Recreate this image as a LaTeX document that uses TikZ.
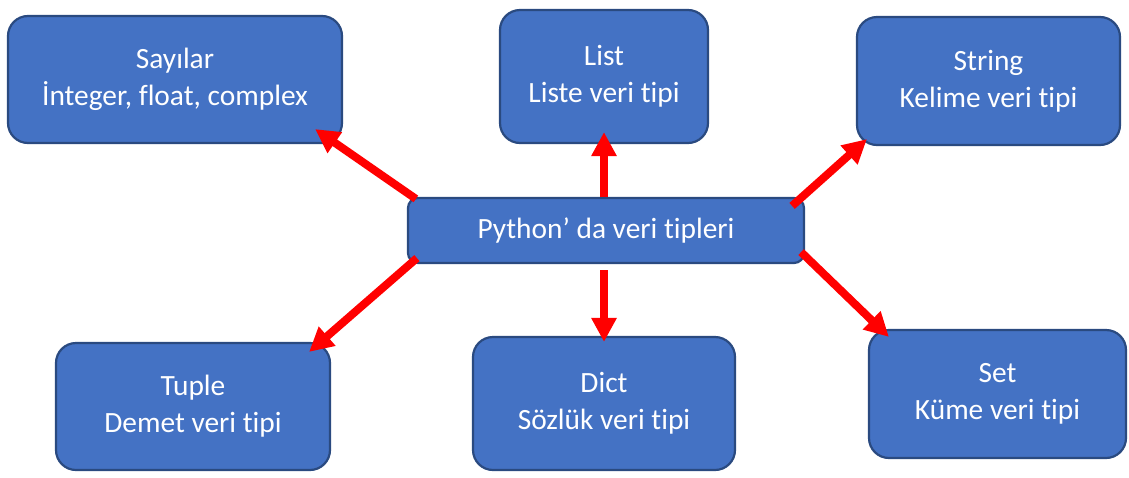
\documentclass[tikz,border=0pt]{standalone}
\usepackage{fontspec}
\setmainfont{Carlito}[RawFeature={-liga;-clig;-dlig}]
\usetikzlibrary{calc, arrows.meta}
\definecolor{boxblue}{HTML}{4472C4}
\definecolor{boxedge}{HTML}{2A4A80}
\tikzset{
  typebox/.style={draw=boxedge, line width=1.1pt, fill=boxblue, rounded corners=10pt, text=white, align=center, inner sep=0pt, font=\fontsize{14.7}{18.5}\selectfont},
  redarrow/.style={draw=red, line width=4pt, -{Triangle[length=12pt, width=12pt]}}
}
\begin{document}
\begin{tikzpicture}[x=0.5pt, y=-0.5pt]
            \useasboundingbox (0,0) rectangle (1129,477);
            \node[typebox, minimum width=167pt, minimum height=63.5pt] (sayilar) at (175,79.5) {Sayılar\\İnteger, float, complex};
            \node[typebox, minimum width=104pt, minimum height=66.5pt] (list) at (604,76.5) {List\\Liste veri tipi};
            \node[typebox, minimum width=131.5pt, minimum height=64pt] (string) at (988.5,81) {String\\Kelime veri tipi};
            \node[typebox, rounded corners=5pt, minimum width=198pt, minimum height=32.5pt] (python) at (606,230.5) {Python’ da veri tipleri};
            \node[typebox, minimum width=137pt, minimum height=63.5pt] (tuple) at (193,406.5) {Tuple\\Demet veri tipi};
            \node[typebox, minimum width=131pt, minimum height=66.5pt] (dict) at (604,403.5) {Dict\\Sözlük veri tipi};
            \node[typebox, minimum width=128.5pt, minimum height=64pt] (set) at (997.5,394) {Set\\Küme veri tipi};
            \draw[redarrow] ($(python.north west)+(9,2)$) -- ($(sayilar.south east)+(-28,-15)$);
            \draw[redarrow] (list.south |- python.north) -- ($(list.south)+(0,-12)$);
            \draw[redarrow] ($(python.north east)+(-13,9)$) -- ($(string.south west)+(11,-7)$);
            \draw[redarrow] ($(python.south west)+(10,-6)$) -- ($(tuple.north east)+(-22,10)$);
            \draw[redarrow] ($(dict.north |- python.south)+(0,6)$) -- ($(dict.north)+(0,6)$);
            \draw[redarrow] ($(python.south east)+(-4,-12)$) -- ($(set.north west)+(21,8)$);
        \end{tikzpicture}
\end{document}
